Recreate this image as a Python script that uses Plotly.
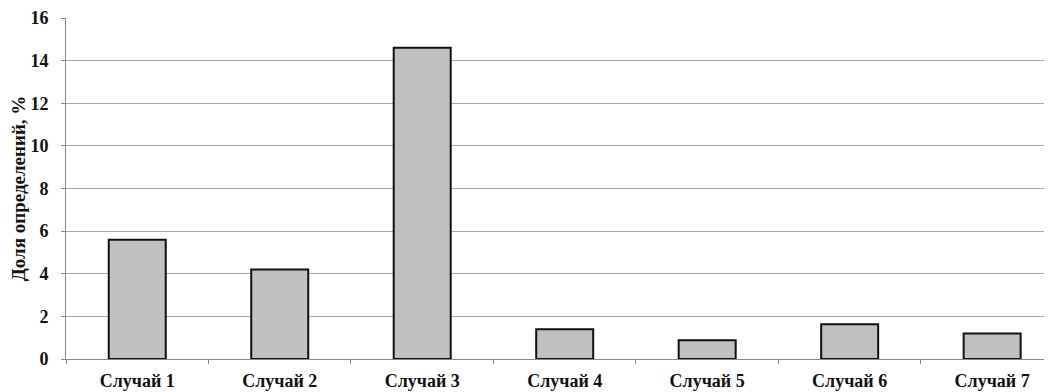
import plotly.graph_objects as go

categories = ["Случай 1", "Случай 2", "Случай 3", "Случай 4", "Случай 5", "Случай 6", "Случай 7"]
values = [5.6, 4.2, 14.6, 1.4, 0.88, 1.63, 1.2]
y_ticks = [0, 2, 4, 6, 8, 10, 12, 14, 16]
y_title = "Доля определений, %"

font_family = "Liberation Serif"

fig = go.Figure(go.Bar(
    x=categories,
    y=values,
    marker=dict(color="#c0c0c0", line=dict(color="#111111", width=2)),
    width=0.4,
))

fig.update_layout(
    width=1044,
    height=384,
    margin=dict(l=58, r=0, t=7, b=33),
    paper_bgcolor="white",
    plot_bgcolor="white",
    showlegend=False,
    font=dict(family=font_family, size=18, color="#111111"),
)

fig.update_xaxes(
    range=[-0.5, 6.42],
    showline=True,
    linecolor="#8a8a8a",
    linewidth=1,
    ticks="outside",
    tickson="boundaries",
    ticklen=4,
    tickcolor="#8a8a8a",
    showgrid=False,
    tickfont=dict(family=font_family, size=18, color="#111111", weight="bold"),
    ticklabelstandoff=5,
    ticklabeloverflow="allow",
)

fig.update_yaxes(
    range=[0, 16],
    tickvals=y_ticks,
    showline=True,
    linecolor="#8a8a8a",
    linewidth=1,
    ticks="outside",
    ticklen=4,
    tickcolor="#8a8a8a",
    showgrid=True,
    gridcolor="#a8a8a8",
    gridwidth=1,
    zeroline=False,
    tickfont=dict(family=font_family, size=18, color="#111111", weight="bold"),
    ticklabelstandoff=9,
    ticklabeloverflow="allow",
    title=dict(text=y_title, font=dict(family=font_family, size=19, color="#111111", weight="bold"), standoff=6),
)

fig.write_html("out.html")
